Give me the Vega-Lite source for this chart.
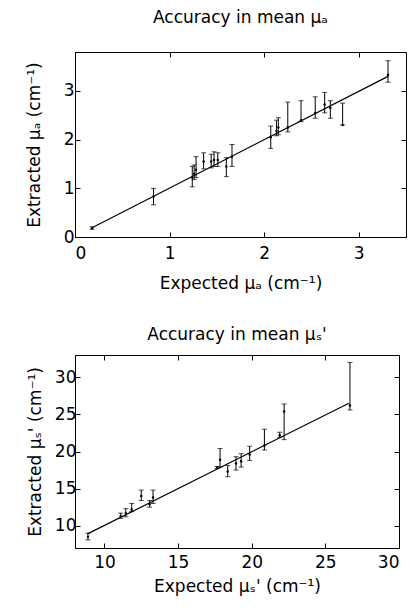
{
  "$schema": "https://vega.github.io/schema/vega-lite/v6.json",
  "padding": {"left": 24, "top": 8, "right": 2, "bottom": 2},
  "spacing": 33,
  "columns": 1,
  "bounds": "full",
  "background": "white",
  "config": {
    "font": "DejaVu Sans",
    "view": {"stroke": "black", "strokeWidth": 1},
    "axis": {
      "grid": false,
      "tickSize": -5,
      "tickColor": "black",
      "domainColor": "black",
      "labelColor": "black",
      "titleColor": "black",
      "labelFont": "DejaVu Sans",
      "titleFont": "DejaVu Sans",
      "labelFontSize": 17,
      "titleFontSize": 17,
      "titleFontWeight": "normal"
    },
    "title": {"font": "DejaVu Sans", "fontSize": 17, "fontWeight": "normal", "color": "black", "frame": "group"}
  },
  "datasets": {
    "a_line": [{"x": 0.17, "y": 0.18}, {"x": 3.31, "y": 3.3}],
    "a_bars": [
      {"x": 0.18, "lo": 0.16, "hi": 0.21, "mid": 0.18},
      {"x": 0.83, "lo": 0.66, "hi": 1.0, "mid": 0.83},
      {"x": 1.24, "lo": 1.03, "hi": 1.45, "mid": 1.22},
      {"x": 1.26, "lo": 1.18, "hi": 1.48, "mid": 1.3},
      {"x": 1.28, "lo": 1.22, "hi": 1.65, "mid": 1.38},
      {"x": 1.36, "lo": 1.4, "hi": 1.73, "mid": 1.55},
      {"x": 1.44, "lo": 1.42, "hi": 1.7, "mid": 1.55},
      {"x": 1.47, "lo": 1.45, "hi": 1.75, "mid": 1.58},
      {"x": 1.51, "lo": 1.45, "hi": 1.73, "mid": 1.58},
      {"x": 1.6, "lo": 1.24, "hi": 1.63, "mid": 1.45},
      {"x": 1.66, "lo": 1.45, "hi": 1.9, "mid": 1.65},
      {"x": 2.07, "lo": 1.82, "hi": 2.28, "mid": 2.05},
      {"x": 2.13, "lo": 2.08, "hi": 2.4, "mid": 2.18},
      {"x": 2.15, "lo": 2.1, "hi": 2.45, "mid": 2.25},
      {"x": 2.25, "lo": 2.16, "hi": 2.77, "mid": 2.25},
      {"x": 2.39, "lo": 2.37, "hi": 2.8, "mid": 2.4},
      {"x": 2.54, "lo": 2.44, "hi": 2.88, "mid": 2.55},
      {"x": 2.64, "lo": 2.55, "hi": 2.97, "mid": 2.72},
      {"x": 2.7, "lo": 2.44, "hi": 2.8, "mid": 2.65},
      {"x": 2.83, "lo": 2.3, "hi": 2.75, "mid": 2.3},
      {"x": 3.31, "lo": 3.18, "hi": 3.62, "mid": 3.33}
    ],
    "s_line": [{"x": 8.85, "y": 8.9}, {"x": 26.6, "y": 26.5}],
    "s_bars": [
      {"x": 8.88, "lo": 8.1, "hi": 9.0, "mid": 8.5},
      {"x": 11.1, "lo": 11.0, "hi": 11.7, "mid": 11.3},
      {"x": 11.45, "lo": 11.2, "hi": 12.3, "mid": 11.7},
      {"x": 11.85, "lo": 11.9, "hi": 13.0, "mid": 12.2},
      {"x": 12.5, "lo": 13.4, "hi": 14.8, "mid": 14.0},
      {"x": 13.07, "lo": 12.5, "hi": 13.4, "mid": 12.9},
      {"x": 13.3, "lo": 13.0, "hi": 14.8, "mid": 13.8},
      {"x": 17.65, "lo": 17.7, "hi": 18.0, "mid": 17.85},
      {"x": 17.85, "lo": 17.9, "hi": 20.4, "mid": 18.9},
      {"x": 18.37, "lo": 16.6, "hi": 18.1, "mid": 17.3},
      {"x": 18.93, "lo": 17.5, "hi": 19.3, "mid": 18.4},
      {"x": 19.28, "lo": 17.9, "hi": 19.7, "mid": 18.7},
      {"x": 19.86, "lo": 18.8, "hi": 20.7, "mid": 19.6},
      {"x": 20.86, "lo": 20.2, "hi": 23.0, "mid": 20.8},
      {"x": 21.9, "lo": 21.9, "hi": 22.6, "mid": 22.2},
      {"x": 22.2, "lo": 21.6, "hi": 26.4, "mid": 25.4},
      {"x": 26.67, "lo": 25.6, "hi": 32.0, "mid": 26.2}
    ]
  },
  "concat": [
    {
      "width": 331,
      "height": 185,
      "title": {"text": "Accuracy in mean μₐ", "offset": 25},
      "layer": [
        {
          "data": {"name": "a_line"},
          "mark": {"type": "line", "color": "black", "strokeWidth": 1.2},
          "encoding": {
            "x": {"field": "x", "type": "quantitative", "scale": {"domain": [0, 3.5], "nice": false},
                  "axis": {"orient": "bottom", "values": [0, 1, 2, 3], "title": "Expected μₐ (cm⁻¹)", "labelPadding": 13, "titlePadding": 14}},
            "y": {"field": "y", "type": "quantitative", "scale": {"domain": [0, 3.8], "nice": false},
                  "axis": {"orient": "left", "values": [0, 1, 2, 3], "title": "Extracted μₐ (cm⁻¹)", "labelPadding": 6, "titlePadding": 20}}
          }
        },
        {
          "data": {"name": "a_bars"},
          "mark": {"type": "errorbar", "color": "black", "ticks": {"size": 5, "color": "black"}, "rule": {"strokeWidth": 1}},
          "encoding": {
            "x": {"field": "x", "type": "quantitative", "axis": null},
            "y": {"field": "lo", "type": "quantitative", "axis": null},
            "y2": {"field": "hi"}
          }
        },
        {
          "data": {"name": "a_bars"},
          "mark": {"type": "point", "filled": true, "color": "black", "size": 6, "opacity": 1},
          "encoding": {
            "x": {"field": "x", "type": "quantitative", "axis": null},
            "y": {"field": "mid", "type": "quantitative", "axis": null}
          }
        },
        {
          "data": {"name": "a_line"},
          "mark": {"type": "line", "opacity": 0},
          "encoding": {
            "x": {"field": "x", "type": "quantitative", "axis": {"orient": "top", "values": [0, 1, 2, 3], "labels": false, "title": null, "domain": false}},
            "y": {"field": "y", "type": "quantitative", "axis": {"orient": "right", "values": [0, 1, 2, 3], "labels": false, "title": null, "domain": false}}
          }
        }
      ],
      "resolve": {"axis": {"x": "independent", "y": "independent"}}
    },
    {
      "width": 324,
      "height": 193,
      "title": {"text": "Accuracy in mean μₛ'", "offset": 11},
      "layer": [
        {
          "data": {"name": "s_line"},
          "mark": {"type": "line", "color": "black", "strokeWidth": 1.2},
          "encoding": {
            "x": {"field": "x", "type": "quantitative", "scale": {"domain": [8, 30], "nice": false},
                  "axis": {"orient": "bottom", "values": [10, 15, 20, 25, 30], "title": "Expected μₛ' (cm⁻¹)", "labelPadding": 11, "titlePadding": 8}},
            "y": {"field": "y", "type": "quantitative", "scale": {"domain": [7, 33], "nice": false},
                  "axis": {"orient": "left", "values": [10, 15, 20, 25, 30], "title": "Extracted μₛ' (cm⁻¹)", "labelPadding": 4, "titlePadding": 10}}
          }
        },
        {
          "data": {"name": "s_bars"},
          "mark": {"type": "errorbar", "color": "black", "ticks": {"size": 5, "color": "black"}, "rule": {"strokeWidth": 1}},
          "encoding": {
            "x": {"field": "x", "type": "quantitative", "axis": null},
            "y": {"field": "lo", "type": "quantitative", "axis": null},
            "y2": {"field": "hi"}
          }
        },
        {
          "data": {"name": "s_bars"},
          "mark": {"type": "point", "filled": true, "color": "black", "size": 6, "opacity": 1},
          "encoding": {
            "x": {"field": "x", "type": "quantitative", "axis": null},
            "y": {"field": "mid", "type": "quantitative", "axis": null}
          }
        },
        {
          "data": {"name": "s_line"},
          "mark": {"type": "line", "opacity": 0},
          "encoding": {
            "x": {"field": "x", "type": "quantitative", "axis": {"orient": "top", "values": [10, 15, 20, 25, 30], "labels": false, "title": null, "domain": false}},
            "y": {"field": "y", "type": "quantitative", "axis": {"orient": "right", "values": [10, 15, 20, 25, 30], "labels": false, "title": null, "domain": false}}
          }
        }
      ],
      "resolve": {"axis": {"x": "independent", "y": "independent"}}
    }
  ]
}
